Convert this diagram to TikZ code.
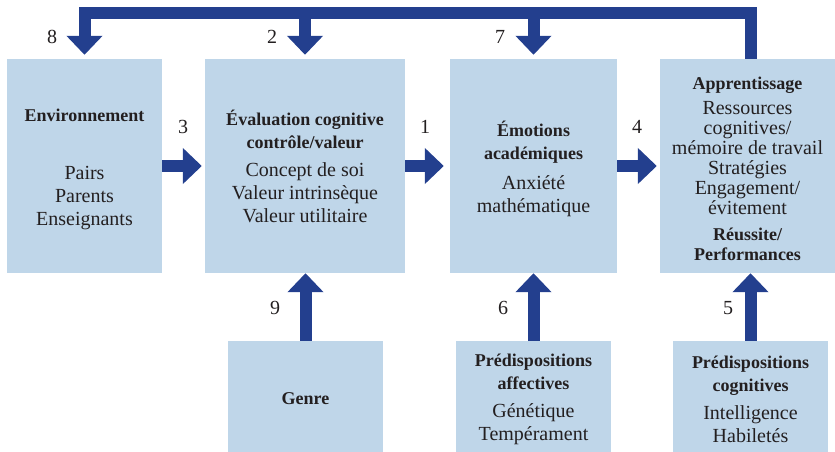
\documentclass[tikz,border=0pt]{standalone}
\usepackage{fontspec}
\setmainfont{Liberation Serif}
\usetikzlibrary{arrows.meta}
\definecolor{boxblue}{HTML}{BFD6E9}
\definecolor{arrowblue}{HTML}{233F8E}
\definecolor{txt}{HTML}{231F20}
\newcommand{\hd}[1]{{\fontsize{18}{23}\selectfont\bfseries #1}}
\begin{document}
\begin{tikzpicture}[x=1pt,y=-1pt,
  box/.style={fill=boxblue, inner sep=0pt},
  boxtext/.style={inner sep=0pt, align=center, text=txt, font=\fontsize{20}{23}\selectfont},
  blockarrow/.style={draw=arrowblue, line width=12pt, -{Triangle[width=35pt,length=19pt]}, line join=miter},
  num/.style={text=txt, font=\fontsize{20}{23}\selectfont, inner sep=0pt}]
\useasboundingbox (0,0) rectangle (835,452);

% upper boxes
\node[box, minimum width=155pt, minimum height=214pt] (env) at (84.5,166) {};
\node[box, minimum width=200pt, minimum height=214pt] (eval) at (305,166) {};
\node[box, minimum width=167pt, minimum height=214pt] (emo) at (533.5,166) {};
\node[box, minimum width=175pt, minimum height=214pt] (app) at (747.5,166) {};

% lower boxes
\node[box, minimum width=155pt, minimum height=111pt] (genre) at (305.5,396.5) {};
\node[box, minimum width=155pt, minimum height=111pt] (paff) at (533.5,396.5) {};
\node[box, minimum width=155pt, minimum height=111pt] (pcog) at (750.5,396.5) {};

% texts
\node[boxtext] (envt) at ([yshift=-3pt]env.center)
  {\hd{Environnement}\\[35pt]Pairs\\Parents\\Enseignants};
\node[boxtext] (evalt) at (eval.center)
  {\hd{Évaluation cognitive}\\\hd{contrôle/valeur}\\[5pt]Concept de soi\\Valeur intrinsèque\\Valeur utilitaire};
\node[boxtext] (emot) at ([yshift=-3pt]emo.center)
  {\hd{Émotions}\\\hd{académiques}\\[7pt]Anxiété\\mathématique};
\node[boxtext, font=\fontsize{20}{20}\selectfont] (appt) at ([yshift=-2.5pt]app.center)
  {\hd{Apprentissage}\\[5pt]Ressources\\cognitives/\\mémoire de travail\\Stratégies\\Engagement/\\évitement\\[6pt]\hd{Réussite/}\\[0pt]\hd{Performances}};
\node[boxtext] (genret) at ([yshift=-2pt]genre.center) {\hd{Genre}};
\node[boxtext] (pafft) at ([yshift=-3pt]paff.center)
  {\hd{Prédispositions}\\\hd{affectives}\\[5pt]Génétique\\Tempérament};
\node[boxtext] (pcogt) at ([yshift=-2.5pt]pcog.center)
  {\hd{Prédispositions}\\\hd{cognitives}\\[5pt]Intelligence\\Habiletés};

% horizontal arrows
\draw[blockarrow] (env.east) -- ([xshift=-3pt]eval.west);
\draw[blockarrow] (eval.east) -- ([xshift=-6pt]emo.west);
\draw[blockarrow] (emo.east) -- ([xshift=-3pt]app.west);

% upward arrows
\draw[blockarrow] (genre.north) -- (genre.north |- eval.south);
\draw[blockarrow] (paff.north) -- (paff.north |- emo.south);
\draw[blockarrow] (pcog.north) -- (pcog.north |- app.south);

% feedback bar
\coordinate (fbR) at (751,13);
\coordinate (fbL) at (84.5,13);
\draw[blockarrow] (fbR |- app.north) -- (fbR) -- (fbL) -- ([yshift=4pt]env.north);
\draw[blockarrow] (eval.north |- fbL) -- ([yshift=4pt]eval.north);
\draw[blockarrow] (emo.north |- fbL) -- ([yshift=4pt]emo.north);

% numbers
\node[num] (n8) at (52,37) {8};
\node[num] (n2) at (272,37) {2};
\node[num] (n7) at (500,37) {7};
\node[num] (n3) at (183,127) {3};
\node[num] (n1) at (425,127) {1};
\node[num] (n4) at (637,127) {4};
\node[num] (n9) at (275,308) {9};
\node[num] (n6) at (503,308) {6};
\node[num] (n5) at (728,308) {5};
\end{tikzpicture}
\end{document}
